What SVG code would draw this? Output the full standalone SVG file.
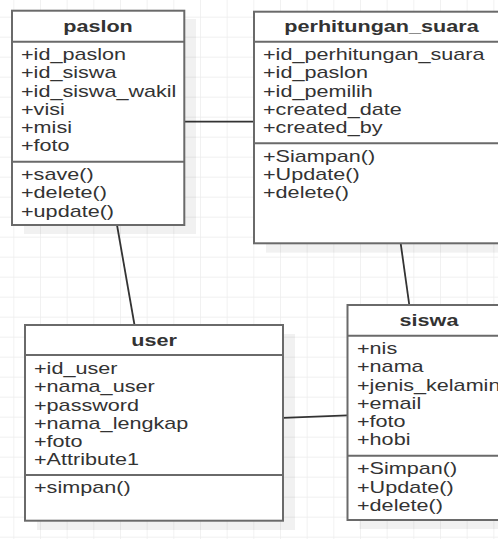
<svg xmlns="http://www.w3.org/2000/svg" width="498" height="539" viewBox="0 0 498 539">
<defs>
<pattern id="grid" patternUnits="userSpaceOnUse" x="13.33" y="16.67" width="26.667" height="20">
<path d="M0 0H26.667M0 0V20" fill="none" stroke="#ececec" stroke-width="1.4"/>
</pattern>
</defs>
<style>
.box{fill:#fff;stroke:#6a6a6a;stroke-width:2}
.sh{fill:#000;fill-opacity:0.055}
.sep{stroke:#6a6a6a;stroke-width:2}
.t{font-family:"Liberation Sans",Arial,sans-serif;font-size:16px;fill:#333}
.h{font-weight:bold;text-anchor:middle}
.c{stroke:#333;stroke-width:1.8;fill:none}
</style>
<rect width="498" height="539" fill="#fff"/>
<rect width="498" height="539" fill="url(#grid)"/>

<g id="connectors">
<line class="c" x1="184" y1="121.7" x2="254" y2="121.7"/>
<line class="c" x1="117" y1="225" x2="134.5" y2="325"/>
<line class="c" x1="400.7" y1="243.5" x2="409.3" y2="305"/>
<line class="c" x1="283" y1="417.8" x2="347.5" y2="415.3"/>
</g>

<g id="paslon">
<rect class="sh" x="24" y="19" width="172" height="215"/>
<rect class="box" x="12" y="10.7" width="172.3" height="214.3"/>
<line class="sep" x1="12" y1="41.7" x2="184.3" y2="41.7"/>
<line class="sep" x1="12" y1="161.7" x2="184.3" y2="161.7"/>
<g transform="translate(98,0) scale(1.35,1)"><text class="t h" x="0" y="31.7">paslon</text></g>
<g transform="translate(21,0) scale(1.35,1)" class="t">
<text x="0" y="60">+id_paslon</text>
<text x="0" y="78.3">+id_siswa</text>
<text x="0" y="96.6">+id_siswa_wakil</text>
<text x="0" y="114.9">+visi</text>
<text x="0" y="133.2">+misi</text>
<text x="0" y="151.5">+foto</text>
<text x="0" y="180">+save()</text>
<text x="0" y="198.3">+delete()</text>
<text x="0" y="216.6">+update()</text>
</g>
</g>

<g id="perhitungan_suara">
<rect class="sh" x="266" y="20.7" width="255" height="232"/>
<rect class="box" x="254" y="11.7" width="255" height="231.6"/>
<line class="sep" x1="254" y1="41.7" x2="509" y2="41.7"/>
<line class="sep" x1="254" y1="143.3" x2="509" y2="143.3"/>
<g transform="translate(381.5,0) scale(1.35,1)"><text class="t h" x="0" y="31.7">perhitungan_suara</text></g>
<g transform="translate(263,0) scale(1.35,1)" class="t">
<text x="0" y="60">+id_perhitungan_suara</text>
<text x="0" y="78.3">+id_paslon</text>
<text x="0" y="96.6">+id_pemilih</text>
<text x="0" y="114.9">+created_date</text>
<text x="0" y="133.2">+created_by</text>
<text x="0" y="161.7">+Siampan()</text>
<text x="0" y="180">+Update()</text>
<text x="0" y="198.3">+delete()</text>
</g>
</g>

<g id="user">
<rect class="sh" x="37" y="334" width="258" height="196"/>
<rect class="box" x="25" y="325" width="258" height="195.7"/>
<line class="sep" x1="25" y1="355" x2="283" y2="355"/>
<line class="sep" x1="25" y1="475" x2="283" y2="475"/>
<g transform="translate(154,0) scale(1.35,1)"><text class="t h" x="0" y="345.8">user</text></g>
<g transform="translate(34,0) scale(1.35,1)" class="t">
<text x="0" y="374">+id_user</text>
<text x="0" y="392.3">+nama_user</text>
<text x="0" y="410.6">+password</text>
<text x="0" y="428.9">+nama_lengkap</text>
<text x="0" y="447.2">+foto</text>
<text x="0" y="465.5">+Attribute1</text>
<text x="0" y="493.5">+simpan()</text>
</g>
</g>

<g id="siswa">
<rect class="sh" x="359.5" y="314" width="164" height="215"/>
<rect class="box" x="347.5" y="305" width="164" height="215"/>
<line class="sep" x1="347.5" y1="335.7" x2="511.5" y2="335.7"/>
<line class="sep" x1="347.5" y1="455.7" x2="511.5" y2="455.7"/>
<g transform="translate(429,0) scale(1.35,1)"><text class="t h" x="0" y="326.5">siswa</text></g>
<g transform="translate(357,0) scale(1.35,1)" class="t">
<text x="0" y="354">+nis</text>
<text x="0" y="372.3">+nama</text>
<text x="0" y="390.6">+jenis_kelamin</text>
<text x="0" y="408.9">+email</text>
<text x="0" y="427.2">+foto</text>
<text x="0" y="445.5">+hobi</text>
<text x="0" y="474.5">+Simpan()</text>
<text x="0" y="492.8">+Update()</text>
<text x="0" y="511.1">+delete()</text>
</g>
</g>
</svg>
